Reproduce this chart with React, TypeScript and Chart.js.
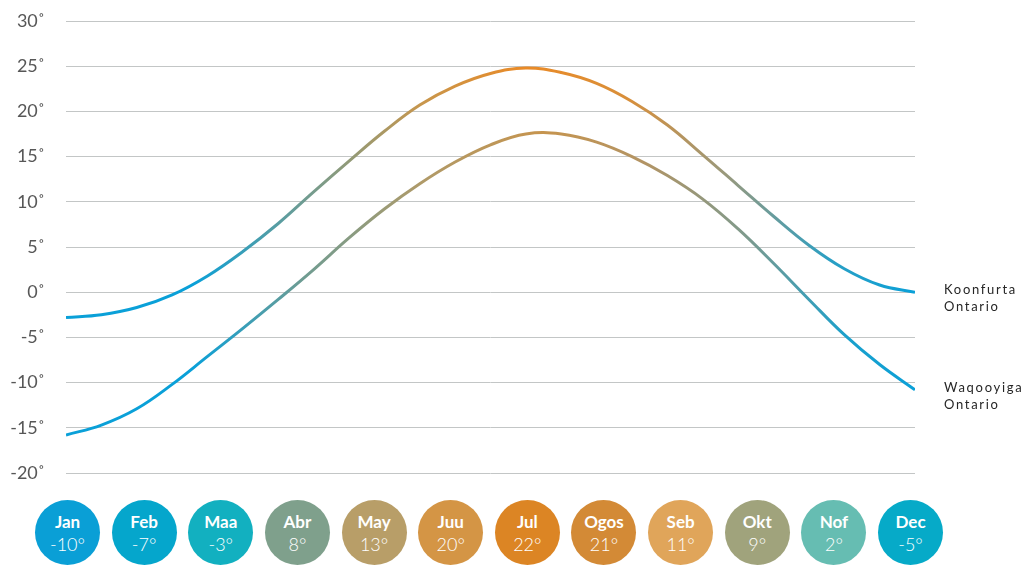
import React, { useEffect, useRef } from "react";
import { Chart, registerables } from "chart.js";

Chart.register(...registerables);

// Half-month sample positions (0 = start of Jan, 24 = end of Dec)
const samplePositions = [0, 1, 2, 3, 4, 5, 6, 7, 8, 9, 10, 11, 12, 13, 14, 15, 16, 17, 18, 19, 20, 21, 22, 23, 24];
const southOntario = [-2.8, -2.5, -1.7, -0.3, 1.8, 4.5, 7.6, 11.1, 14.5, 17.8, 20.7, 22.8, 24.2, 24.8, 24.3, 23.1, 21.1, 18.5, 15.2, 11.8, 8.4, 5.2, 2.6, 0.8, 0.0];
const northOntario = [-15.8, -14.7, -12.9, -10.2, -7.1, -4.0, -0.8, 2.5, 6.0, 9.2, 12.0, 14.4, 16.3, 17.5, 17.5, 16.6, 15.0, 12.9, 10.3, 7.0, 3.2, -0.8, -4.7, -8.0, -10.8];
const seriesLabels = [
  ["Koonfurta", "Ontario"],
  ["Waqooyiga", "Ontario"],
];
const yTickValues = [-20, -15, -10, -5, 0, 5, 10, 15, 20, 25, 30];

const months = ["Jan", "Feb", "Maa", "Abr", "May", "Juu", "Jul", "Ogos", "Seb", "Okt", "Nof", "Dec"];
const monthTemps = [-10, -7, -3, 8, 13, 20, 22, 21, 11, 9, 2, -5];
const monthColors = ["#0a9fd6", "#05a6cc", "#12b0c0", "#7fa08c", "#b89e68", "#d49545", "#dc8524", "#d38a36", "#e0a55a", "#a0a37c", "#66bdb2", "#06aac8"];

const southStops: [number, string][] = [
  [0, "#0aa0d8"],
  [0.15, "#0aa0d8"],
  [0.28, "#6f9c92"],
  [0.42, "#c8964c"],
  [0.54, "#ea8a26"],
  [0.66, "#d98f3a"],
  [0.78, "#97997e"],
  [0.9, "#2a9fc4"],
  [1, "#0aa0d8"],
];
const northStops: [number, string][] = [
  [0, "#0aa0d8"],
  [0.15, "#0aa0d8"],
  [0.28, "#6f9c92"],
  [0.42, "#b09a68"],
  [0.56, "#c6944e"],
  [0.68, "#b39464"],
  [0.8, "#7f9a8c"],
  [0.92, "#1aa0cc"],
  [1, "#0aa0d8"],
];

function gradientFor(chart: any, stops: [number, string][]) {
  const { ctx, chartArea } = chart;
  if (!chartArea) return stops[0][1];
  const g = ctx.createLinearGradient(chartArea.left, 0, chartArea.right, 0);
  stops.forEach(([o, c]) => g.addColorStop(o, c));
  return g;
}

const endLabelsPlugin = {
  id: "endLabels",
  afterDatasetsDraw(chart: any) {
    const { ctx, chartArea } = chart;
    const y = chart.scales.y;
    chart.data.datasets.forEach((ds: any, i: number) => {
      const last = ds.data[ds.data.length - 1];
      const py = y.getPixelForValue(last.y);
      ctx.save();
      ctx.font = "400 13px Lato, 'Noto Sans', sans-serif";
      ctx.fillStyle = "#262626";
      (ctx as any).letterSpacing = "1.7px";
      ctx.textAlign = "left";
      ctx.textBaseline = "middle";
      seriesLabels[i].forEach((t, j) => {
        ctx.fillText(t, chartArea.right + 29, py - 2 + j * 17);
      });
      ctx.restore();
    });
  },
};

export default function App() {
  const canvasRef = useRef<HTMLCanvasElement | null>(null);

  useEffect(() => {
    if (!canvasRef.current) return;
    const chart = new Chart(canvasRef.current, {
      type: "line",
      data: {
        datasets: [
          {
            label: seriesLabels[0].join(" "),
            data: samplePositions.map((x, i) => ({ x, y: southOntario[i] })),
            borderColor: (c: any) => gradientFor(c.chart, southStops),
            borderWidth: 3,
            pointRadius: 0,
            tension: 0.4,
            fill: false,
          },
          {
            label: seriesLabels[1].join(" "),
            data: samplePositions.map((x, i) => ({ x, y: northOntario[i] })),
            borderColor: (c: any) => gradientFor(c.chart, northStops),
            borderWidth: 3,
            pointRadius: 0,
            tension: 0.4,
            fill: false,
          },
        ],
      },
      options: {
        animation: false,
        responsive: false,
        maintainAspectRatio: false,
        layout: { padding: { left: 0, right: 117, top: 21, bottom: 17 } },
        plugins: {
          legend: { display: false },
          tooltip: { enabled: false },
        },
        scales: {
          x: {
            type: "linear",
            min: samplePositions[0],
            max: samplePositions[samplePositions.length - 1],
            display: false,
          },
          y: {
            min: yTickValues[0],
            max: yTickValues[yTickValues.length - 1],
            afterBuildTicks: (scale: any) => {
              scale.ticks = yTickValues.map((v) => ({ value: v }));
            },
            afterFit: (scale: any) => {
              scale.width = 66;
              scale.paddingTop = 0;
              scale.paddingBottom = 0;
            },
            border: { display: false },
            grid: { color: "#c3c6c6", lineWidth: 1, drawTicks: false },
            ticks: {
              padding: 21,
              color: "#575757",
              font: { family: "Lato, 'Noto Sans', sans-serif", size: 18, weight: "400" as any },
              callback: (v: any) => `${v}˚`,
            },
          },
        },
      },
      plugins: [endLabelsPlugin],
    });
    return () => chart.destroy();
  }, []);

  return (
    <div style={{ position: "absolute", left: 0, top: 0, width: 1032, height: 566, overflow: "hidden", background: "#ffffff" }}>
      <canvas ref={canvasRef} width={1032} height={490} style={{ display: "block", width: 1032, height: 490 }} />
      {months.map((m, i) => (
        <div
          key={m}
          style={{
            position: "absolute",
            top: 500,
            left: 35 + i * 76.64,
            width: 65,
            height: 65,
            borderRadius: "50%",
            background: monthColors[i],
            color: "#ffffff",
            display: "flex",
            flexDirection: "column",
            alignItems: "center",
            justifyContent: "center",
            fontFamily: "Lato, 'Noto Sans', sans-serif",
          }}
        >
          <div style={{ fontSize: 17, fontWeight: 700, lineHeight: "22px" }}>{m}</div>
          <div style={{ fontSize: 18, fontWeight: 300, lineHeight: "22px" }}>{`${monthTemps[i]}°`}</div>
        </div>
      ))}
    </div>
  );
}
